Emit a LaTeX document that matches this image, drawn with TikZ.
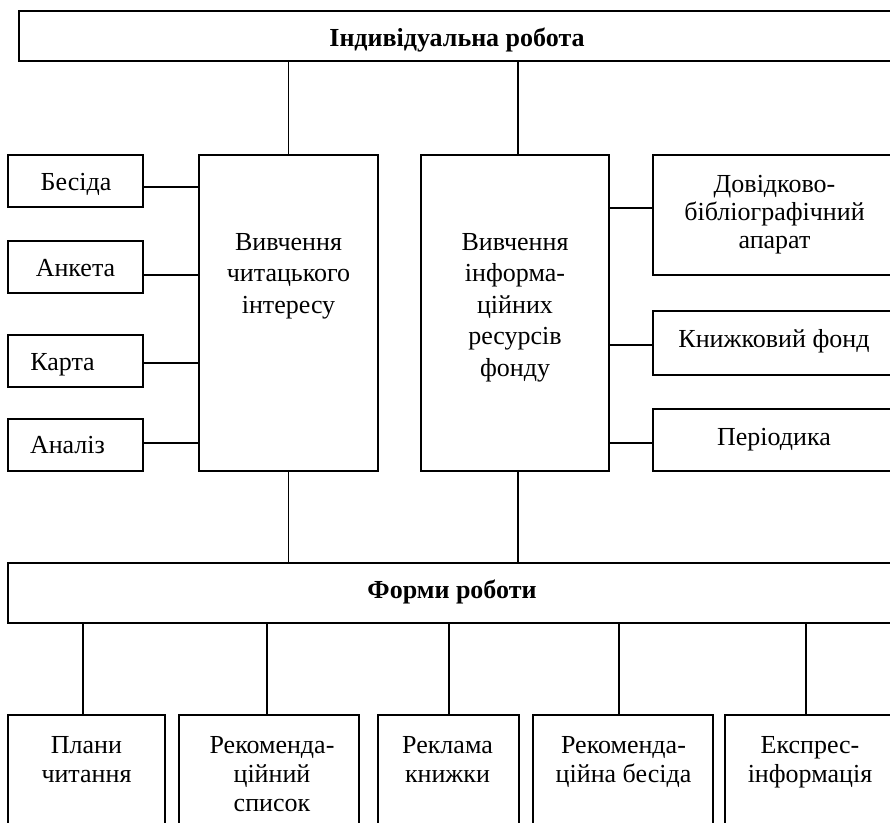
\documentclass[tikz,border=0pt]{standalone}
\usepackage{fontspec}
\setmainfont{Liberation Serif}
\usetikzlibrary{calc}
\begin{document}
\begin{tikzpicture}[x=1pt,y=-1pt,
  box/.style={draw, line width=1.5pt, inner sep=0pt, outer sep=0pt, anchor=north west},
  lbl/.style={font=\fontsize{26}{29}\selectfont, align=center, inner sep=0pt, anchor=base},
  tall/.style={font=\fontsize{26}{31.5}\selectfont},
  tight/.style={font=\fontsize{26}{28}\selectfont},
  hd/.style={font=\fontsize{26}{29}\selectfont\bfseries},
  link/.style={line width=1.5pt}]
\useasboundingbox (0,0) rectangle (890,822);
\clip (0,0) rectangle (890,822);

% boxes
\node[box, minimum width=881pt, minimum height=50pt]  (top)    at (19,11)  {};
\node[box, minimum width=179pt, minimum height=316pt] (lbig)   at (199,155) {};
\node[box, minimum width=188pt, minimum height=316pt] (rbig)   at (421,155) {};
\node[box, minimum width=135pt, minimum height=52pt]  (besida) at (8,155)  {};
\node[box, minimum width=135pt, minimum height=52pt]  (anketa) at (8,241)  {};
\node[box, minimum width=135pt, minimum height=52pt]  (karta)  at (8,335)  {};
\node[box, minimum width=135pt, minimum height=52pt]  (analiz) at (8,419)  {};
\node[box, minimum width=247pt, minimum height=120pt] (dovid)  at (653,155) {};
\node[box, minimum width=247pt, minimum height=64pt]  (knyzh)  at (653,311) {};
\node[box, minimum width=247pt, minimum height=62pt]  (period) at (653,409) {};
\node[box, minimum width=892pt, minimum height=60pt]  (formy)  at (8,563)  {};
\node[box, minimum width=157pt, minimum height=150pt] (b1) at (8,715)   {};
\node[box, minimum width=180pt, minimum height=150pt] (b2) at (179,715) {};
\node[box, minimum width=141pt, minimum height=150pt] (b3) at (378,715) {};
\node[box, minimum width=180pt, minimum height=150pt] (b4) at (533,715) {};
\node[box, minimum width=175pt, minimum height=150pt] (b5) at (725,715) {};

% labels (anchored at the baseline of the last line)
\node[lbl, hd] (ttop) at (457,46) {Індивідуальна робота};
\node[lbl, tall] (tlbig) at (288.5,313) {Вивчення\\читацького\\інтересу};
\node[lbl, tall] (trbig) at (515,376) {Вивчення\\інформа-\\ційних\\ресурсів\\фонду};
\node[lbl] (tbesida) at (76,190.7) {Бесіда};
\node[lbl] (tanketa) at (75.5,276) {Анкета};
\node[lbl] (tkarta)  at (62.5,370) {Карта};
\node[lbl] (tanaliz) at (67.5,453) {Аналіз};
\node[lbl, tight] (tdovid) at (774.5,248) {Довідково-\\бібліографічний\\апарат};
\node[lbl] (tknyzh)  at (774,347) {Книжковий фонд};
\node[lbl] (tperiod) at (774,445) {Періодика};
\node[lbl, hd] (tformy) at (452,598) {Форми роботи};
\node[lbl] (tb1) at (86.5,782) {Плани\\читання};
\node[lbl] (tb2) at (272,811) {Рекоменда-\\ційний\\список};
\node[lbl] (tb3) at (447.5,782) {Реклама\\книжки};
\node[lbl] (tb4) at (623.5,782) {Рекоменда-\\ційна бесіда};
\node[lbl] (tb5) at (810,782) {Експрес-\\інформація};

% attachment points
\coordinate (pl) at (lbig.north);
\coordinate (pr) at ($(rbig.north)+(3,0)$);
\coordinate (qr) at ($(rbig.south)+(3,0)$);
\coordinate (s1) at ($(besida.east)+(0,6)$);
\coordinate (s2) at ($(anketa.east)+(0,8)$);
\coordinate (s3) at ($(karta.east)+(0,2)$);
\coordinate (s4) at ($(analiz.east)+(0,-2)$);
\coordinate (r1) at ($(dovid.west)+(0,-7)$);
\coordinate (r2) at ($(knyzh.west)+(0,2)$);
\coordinate (r3) at ($(period.west)+(0,3)$);
\coordinate (c1) at ($(b1.north)+(-3.5,0)$);
\coordinate (c2) at ($(b2.north)+(-2,0)$);
\coordinate (c3) at ($(b3.north)+(0.5,0)$);
\coordinate (c4) at ($(b4.north)+(-4,0)$);
\coordinate (c5) at ($(b5.north)+(-6.5,0)$);

% connectors
\draw[link] (top.south -| pl) -- (pl);
\draw[link] (top.south -| pr) -- (pr);
\foreach \s in {s1,s2,s3,s4} \draw[link] (\s) -- (\s -| lbig.west);
\foreach \r in {r1,r2,r3} \draw[link] (\r) -- (\r -| rbig.east);
\draw[link] (lbig.south) -- (lbig.south |- formy.north);
\draw[link] (qr) -- (qr |- formy.north);
\foreach \c in {c1,c2,c3,c4,c5} \draw[link] (\c) -- (\c |- formy.south);
\end{tikzpicture}
\end{document}
